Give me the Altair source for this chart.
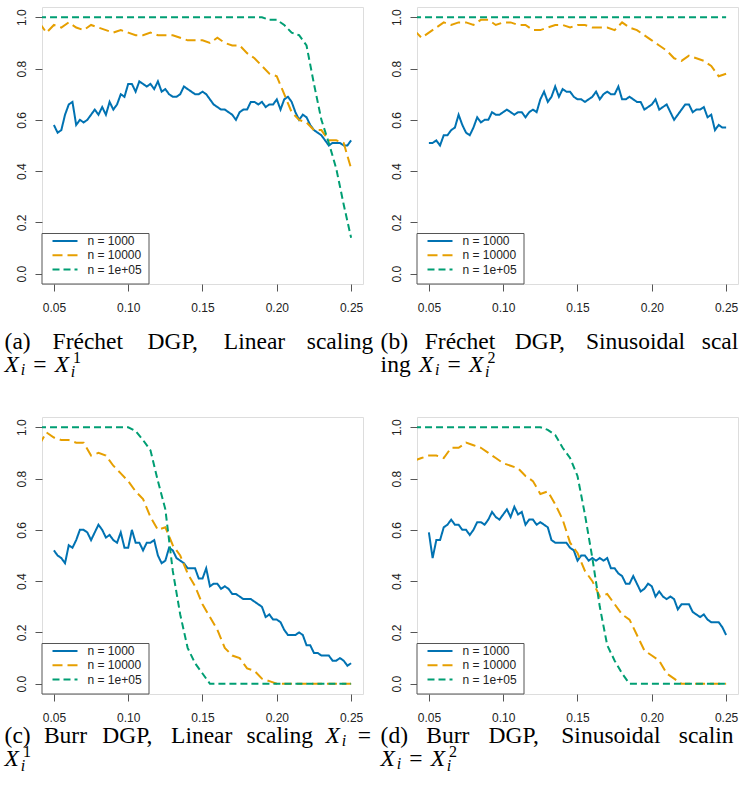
import altair as alt
import pandas as pd

# ---------------- data ----------------
SERIES = ["n = 1000", "n = 10000", "n = 1e+05"]
COLORS = ["#0072B2", "#E69F00", "#009E73"]
DASHES = [[1, 0], [10, 5], [7, 4]]
X_TICKS = [0.05, 0.10, 0.15, 0.20, 0.25]
Y_TICKS = [0.0, 0.2, 0.4, 0.6, 0.8, 1.0]

X_FINE = [round(0.05 + 0.0025 * i, 4) for i in range(81)]     # grid of n=1000 curves
X_COARSE = [round(0.04 + 0.005 * k, 3) for k in range(43)]    # grid of n=10000 / 1e+05 curves

A_BLUE = [.58, .55, .56, .62, .66, .67, .58, .60, .59, .60,
          .62, .64, .62, .65, .62, .67, .64, .66, .70, .69,
          .74, .74, .71, .75, .74, .73, .74, .72, .75, .71,
          .72, .70, .69, .69, .70, .73, .72, .71, .70, .70,
          .71, .70, .68, .66, .65, .64, .64, .63, .62, .60,
          .63, .64, .64, .67, .67, .66, .67, .65, .66, .66,
          .68, .64, .68, .69, .67, .63, .60, .62, .61, .58,
          .56, .55, .54, .52, .50, .51, .51, .51, .50, .50,
          .52]
A_ORANGE = [.98, .94, .97, .96, .98, .96, .95, .97, .96, .95, .94,
            .95, .94, .93, .93, .94, .93, .93, .93, .92, .91,
            .91, .91, .90, .92, .90, .89, .89, .86, .84, .81,
            .78, .77, .70, .63, .60, .59, .56, .56, .52, .52,
            .51, .41]
A_GREEN = [1.0, 1.0, 1.0, 1.0, 1.0, 1.0, 1.0, 1.0, 1.0, 1.0, 1.0,
           1.0, 1.0, 1.0, 1.0, 1.0, 1.0, 1.0, 1.0, 1.0, 1.0,
           1.0, 1.0, 1.0, 1.0, 1.0, 1.0, 1.0, 1.0, 1.0, 1.0,
           .99, .99, .97, .94, .93, .89, .74, .60, .51, .41,
           .27, .14]

B_BLUE = [.51, .51, .52, .50, .54, .54, .56, .57, .62, .58,
          .55, .54, .57, .61, .59, .60, .60, .63, .62, .62,
          .63, .64, .63, .62, .63, .63, .61, .63, .64, .63,
          .68, .71, .67, .69, .73, .69, .72, .71, .71, .69,
          .68, .68, .67, .68, .69, .71, .68, .70, .71, .70,
          .70, .73, .68, .68, .69, .68, .67, .67, .64, .65,
          .66, .68, .64, .65, .66, .63, .60, .62, .64, .66,
          .66, .63, .64, .64, .65, .61, .62, .56, .58, .57,
          .57]
B_ORANGE = [.95, .92, .94, .96, .98, .97, .98, .98, .97, .99, .99,
            .97, .98, .98, .97, .97, .95, .95, .96, .97, .97,
            .96, .97, .97, .96, .96, .96, .95, .98, .96, .95,
            .93, .91, .89, .87, .84, .83, .85, .84, .83, .81,
            .77, .78]
B_GREEN = [1.0, 1.0, 1.0, 1.0, 1.0, 1.0, 1.0, 1.0, 1.0, 1.0, 1.0,
           1.0, 1.0, 1.0, 1.0, 1.0, 1.0, 1.0, 1.0, 1.0, 1.0,
           1.0, 1.0, 1.0, 1.0, 1.0, 1.0, 1.0, 1.0, 1.0, 1.0,
           1.0, 1.0, 1.0, 1.0, 1.0, 1.0, 1.0, 1.0, 1.0, 1.0,
           1.0, 1.0]

C_BLUE = [.52, .50, .49, .47, .54, .53, .56, .60, .60, .59,
          .56, .59, .62, .60, .57, .58, .56, .55, .59, .53,
          .53, .60, .55, .55, .52, .55, .55, .56, .50, .47,
          .48, .53, .52, .49, .48, .47, .45, .45, .45, .41,
          .41, .45, .38, .39, .39, .37, .38, .37, .35, .35,
          .34, .33, .33, .33, .32, .31, .30, .26, .27, .25,
          .25, .24, .21, .19, .19, .19, .20, .19, .15, .15,
          .12, .12, .11, .11, .11, .09, .09, .10, .09, .07,
          .08]
C_ORANGE = [.93, .98, .96, .95, .95, .94, .94, .89, .90, .89, .85,
            .82, .79, .75, .72, .65, .60, .61, .54, .50, .43,
            .38, .31, .26, .21, .14, .11, .10, .06, .05, .02,
            .01, .00, .00, .00, .00, .00, .00, .00, .00, .00,
            .00, .00]
C_GREEN = [1.0, 1.0, 1.0, 1.0, 1.0, 1.0, 1.0, 1.0, 1.0, 1.0, 1.0,
           1.0, 1.0, .985, .95, .91, .79, .68, .44, .27, .14,
           .08, .04, .00, .00, .00, .00, .00, .00, .00, .00,
           .00, .00, .00, .00, .00, .00, .00, .00, .00, .00,
           .00, .00]

D_BLUE = [.59, .49, .56, .56, .61, .62, .64, .62, .62, .60,
          .60, .58, .60, .63, .63, .62, .64, .67, .65, .64,
          .66, .68, .65, .69, .66, .67, .62, .64, .64, .62,
          .63, .62, .61, .56, .55, .55, .55, .55, .53, .52,
          .48, .50, .50, .48, .49, .48, .49, .48, .49, .45,
          .45, .43, .42, .39, .39, .42, .39, .36, .37, .39,
          .38, .34, .36, .34, .33, .34, .33, .29, .31, .31,
          .31, .28, .27, .26, .27, .25, .24, .24, .24, .22,
          .19]
D_ORANGE = [.87, .88, .89, .89, .88, .92, .92, .94, .93, .92, .90,
            .88, .86, .85, .84, .81, .79, .74, .75, .70, .64,
            .55, .51, .44, .40, .34, .35, .31, .27, .25, .19,
            .13, .11, .09, .04, .02, .00, .00, .00, .00, .00,
            .00, .00]
D_GREEN = [1.0, 1.0, 1.0, 1.0, 1.0, 1.0, 1.0, 1.0, 1.0, 1.0, 1.0,
           1.0, 1.0, 1.0, 1.0, 1.0, 1.0, 1.0, .99, .97, .92,
           .88, .81, .66, .49, .30, .15, .09, .04, .00, .00,
           .00, .00, .00, .00, .00, .00, .00, .00, .00, .00,
           .00, .00]

# caption tokens: ("w", word) roman word, ("Xi", None) X_i, ("eq", None) "=",
# ("Xs", d) X_i^d
CAPTIONS = {
    "a": [[("w", "(a)"), ("w", "Fréchet"), ("w", "DGP,"), ("w", "Linear"), ("w", "scaling")],
          [("Xi", None), ("eq", None), ("Xs", "1")]],
    "b": [[("w", "(b)"), ("w", "Fréchet"), ("w", "DGP,"), ("w", "Sinusoidal"), ("w", "scal-")],
          [("w", "ing"), ("Xi", None), ("eq", None), ("Xs", "2")]],
    "c": [[("w", "(c)"), ("w", "Burr"), ("w", "DGP,"), ("w", "Linear"), ("w", "scaling"),
           ("Xi", None), ("eq", None)],
          [("Xs", "1")]],
    "d": [[("w", "(d)"), ("w", "Burr"), ("w", "DGP,"), ("w", "Sinusoidal"), ("w", "scaling")],
          [("Xi", None), ("eq", None), ("Xs", "2")]],
}

# ---------------- layout constants ----------------
W, H = 321, 277
SP_H, SP_V = 54, 133
ORIGINS = {"a": (41.4, 6.8), "b": (416.4, 6.8), "c": (41.4, 416.8), "d": (416.4, 416.8)}
CAP_LEFT = {"a": 4, "b": 380, "c": 4, "d": 380}
CAP_BASE = {"a": (348.5, 371.5), "b": (348.5, 371.5), "c": (742.5, 765.5), "d": (742.5, 765.5)}
CAP_RIGHT = {"a": 374, "b": 746, "c": 374, "d": 746}
PAGE_RIGHT = 741

FRAME = "#555555"
TXT = "#222222"
SANS = "Liberation Sans"
SERIF = "Liberation Serif"

CM = {'(': .3889, ')': .3889, 'a': .5, 'b': .5556, 'c': .4444, 'd': .5556, 'e': .4444,
      'é': .4444, 'g': .5, 'h': .5556, 'i': .2778, 'l': .2778, 'n': .5556, 'o': .5,
      'r': .3917, 's': .3944, 't': .3889, 'u': .5556, 'F': .6528, 'D': .7639, 'G': .7847,
      'P': .6806, 'L': .625, 'B': .7083, 'S': .5556, ',': .2778, '-': .3333}
EM = 23.0
CAP_FS = 23.5
SUB_FS = 16


def box_w(tok):
    k, v = tok
    if k == "w":
        return sum(CM.get(c, .5) for c in v) * EM
    if k == "Xi":
        return 1.0 * EM
    if k == "eq":
        return 0.7778 * EM
    return 1.2 * EM


def glue(t1, t2):
    if t1[0] == "eq" or t2[0] == "eq":
        return 0.2 * EM
    return 0.3333 * EM


def render(tok, x, y):
    k, v = tok
    if k == "w":
        return [(v, x, y, CAP_FS, False, box_w(tok))]
    if k == "eq":
        return [("=", x + 1.0, y, CAP_FS, False, box_w(tok))]
    if k == "Xi":
        return [("X", x, y, CAP_FS, True, 16), ("i", x + 0.70 * EM, y + 0.15 * EM, SUB_FS, True, 5)]
    return [("X", x, y, CAP_FS, True, 16), (v, x + 0.80 * EM, y - 0.40 * EM, SUB_FS, False, 8),
            ("i", x + 0.70 * EM, y + 0.22 * EM, SUB_FS, True, 5)]


def caption_df(key):
    ox, oy = ORIGINS[key]
    rows = []
    for li, tokens in enumerate(CAPTIONS[key]):
        base = CAP_BASE[key][li]
        widths = [box_w(t) for t in tokens]
        glues = [glue(tokens[i], tokens[i + 1]) for i in range(len(tokens) - 1)]
        if li == 0 and glues:
            extra = (CAP_RIGHT[key] - CAP_LEFT[key] - sum(widths) - sum(glues)) / len(glues)
            glues = [g + extra for g in glues]
        x = CAP_LEFT[key]
        for t, w, g in zip(tokens, widths, glues + [0]):
            for txt, ax, ay, fs, it, ww in render(t, x, base):
                rows.append({"txt": txt, "px": ax - ox, "py": ay - oy, "fs": fs,
                             "it": it, "clip": ax + ww > PAGE_RIGHT,
                             "lim": PAGE_RIGHT - ax})
            x += w + g
    return pd.DataFrame(rows)


def panel(key, blue, orange, green):
    frames = []
    for s, xs, ys in [(SERIES[0], X_FINE, blue), (SERIES[1], X_COARSE, orange),
                      (SERIES[2], X_COARSE, green)]:
        frames.append(pd.DataFrame({"x": xs, "y": ys, "series": s}))

    color = alt.Color("series:N", scale=alt.Scale(domain=SERIES, range=COLORS), legend=None)
    dash = alt.StrokeDash("series:N", scale=alt.Scale(domain=SERIES, range=DASHES), legend=None)
    xenc = alt.X("x:Q", scale=alt.Scale(domain=[0.042, 0.258], nice=False, zero=False),
                 axis=alt.Axis(values=X_TICKS, format=".2f", title=None, grid=False, domain=False,
                               tickSize=7, tickColor=FRAME, labelFont=SANS, labelFontSize=12,
                               labelColor=TXT, labelPadding=11, labelFlush=False,
                               labelOverlap=False))
    yenc = alt.Y("y:Q", scale=alt.Scale(domain=[-0.04, 1.04], nice=False, zero=False),
                 axis=alt.Axis(values=Y_TICKS, format=".1f", title=None, grid=False, domain=False,
                               tickSize=7, tickColor=FRAME, labelFont=SANS, labelFontSize=12,
                               labelColor=TXT, labelAngle=270, labelAlign="center",
                               labelBaseline="alphabetic", labelPadding=10, labelFlush=False,
                               labelOverlap=False))

    layers = []
    for f in frames:
        layers.append(alt.Chart(f).mark_line(clip=True, strokeWidth=2).encode(
            x=xenc, y=yenc, color=color, strokeDash=dash))

    # hand-drawn legend box (bottom-left, as in R's legend())
    leg = pd.DataFrame({"series": SERIES, "ly": [233.9, 248.2, 262.5]})
    layers.append(alt.Chart(pd.DataFrame({"k": [0]})).mark_rect(
        fill="white", stroke=FRAME, strokeWidth=1).encode(
        x=alt.value(0), x2=alt.value(107), y=alt.value(226.5), y2=alt.value(H)))
    layers.append(alt.Chart(leg).mark_rule(strokeWidth=2).encode(
        x=alt.value(10.5), x2=alt.value(35.5),
        y=alt.Y("ly:Q", scale=None, axis=None), color=color, strokeDash=dash))
    layers.append(alt.Chart(leg).mark_text(
        align="left", baseline="middle", font=SANS, fontSize=12, color=TXT).encode(
        x=alt.value(45.5), y=alt.Y("ly:Q", scale=None, axis=None), text="series:N"))

    # caption (serif, justified first line)
    cap = caption_df(key)
    for it in (False, True):
        sub = cap[(cap["it"] == it) & (~cap["clip"])]
        if len(sub):
            layers.append(alt.Chart(sub).mark_text(
                align="left", baseline="alphabetic", font=SERIF, color="black",
                fontStyle="italic" if it else "normal").encode(
                x=alt.X("px:Q", scale=None, axis=None), y=alt.Y("py:Q", scale=None, axis=None),
                text="txt:N", size=alt.Size("fs:Q", scale=None, legend=None)))
    clipped = cap[cap["clip"]]
    for _, r in clipped.iterrows():
        layers.append(alt.Chart(pd.DataFrame([r])).mark_text(
            align="left", baseline="alphabetic", font=SERIF, color="black",
            fontStyle="italic" if r["it"] else "normal", limit=max(int(r["lim"]), 1),
            ellipsis="\u200b").encode(
            x=alt.X("px:Q", scale=None, axis=None), y=alt.Y("py:Q", scale=None, axis=None),
            text="txt:N", size=alt.Size("fs:Q", scale=None, legend=None)))

    return alt.layer(*layers).properties(width=W, height=H)


pa = panel("a", A_BLUE, A_ORANGE, A_GREEN)
pb = panel("b", B_BLUE, B_ORANGE, B_GREEN)
pc = panel("c", C_BLUE, C_ORANGE, C_GREEN)
pd_ = panel("d", D_BLUE, D_ORANGE, D_GREEN)

chart = alt.concat(pa, pb, pc, pd_, columns=2,
                   spacing={"row": SP_V, "column": SP_H}, bounds="flush").properties(
    padding={"left": 4, "top": 6, "right": 0, "bottom": 0}
).configure_view(stroke=FRAME, strokeWidth=1).configure(background="white")

chart.save("out.html", embed_options={"renderer": "svg", "actions": False})
